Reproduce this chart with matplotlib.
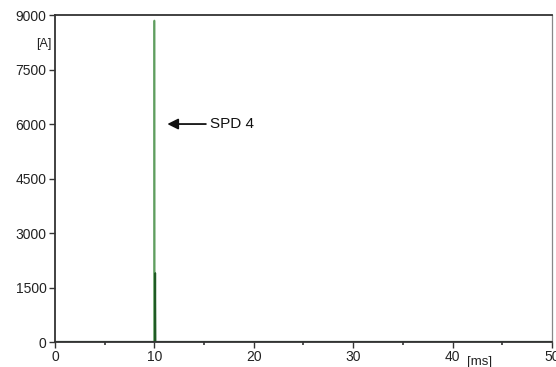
import numpy as np
import matplotlib
matplotlib.use('Agg')
import matplotlib.pyplot as plt
from matplotlib.ticker import MultipleLocator

plt.rcParams['font.family'] = ['Liberation Sans', 'DejaVu Sans']

# current trace (ms, A)
time_main = [0.0, 9.98, 10.0, 10.03, 50.0]
current_main = [0, 0, 8850, 0, 0]
time_tail = [10.0, 10.06, 10.09, 10.12, 10.2]
current_tail = [0, 0, 1900, 0, 0]

y_ticks = [0, 1500, 3000, 4500, 6000, 7500, 9000]
x_ticks = [0, 10, 20, 30, 40, 50]

fig = plt.figure(figsize=(5.56, 3.67), dpi=100)
ax = fig.add_axes([0.0989, 0.0681, 0.8939, 0.8909])

ax.plot(time_main, current_main, color='#5f9e5f', lw=1.2)
ax.plot(time_tail, current_tail, color='#1f5a24', lw=1.2)
ax.axhline(0, color='#2f4f38', lw=1.6)

ax.set_xlim(0, 50)
ax.set_ylim(0, 9000)
ax.set_xticks(x_ticks)
ax.set_yticks(y_ticks)
ax.xaxis.set_minor_locator(MultipleLocator(5))
ax.tick_params(axis='both', direction='out', length=4, width=1, labelsize=10,
               colors='#333333', labelcolor='#222222', pad=2)
ax.tick_params(axis='x', which='minor', length=2.5, width=1.2, colors='#333333')

for side in ['left', 'bottom', 'top']:
    ax.spines[side].set_color('#333333')
    ax.spines[side].set_linewidth(1.3)
ax.spines['right'].set_color('#888888')
ax.spines['right'].set_linewidth(0.9)

ax.annotate('SPD 4', xy=(11.3, 6000), xytext=(15.6, 6000),
            fontsize=11, va='center', ha='left', color='#111111',
            arrowprops=dict(arrowstyle='-|>', color='#111111', lw=1.3,
                            mutation_scale=16, shrinkA=1, shrinkB=0))

ax.text(-1.1, 8200, '[A]', fontsize=9, ha='center', va='center',
        color='#222222', clip_on=False)
ax.text(42.7, -560, '[ms]', fontsize=9.5, ha='center', va='center',
        color='#222222', clip_on=False)

fig.savefig('out.png', dpi=100)
